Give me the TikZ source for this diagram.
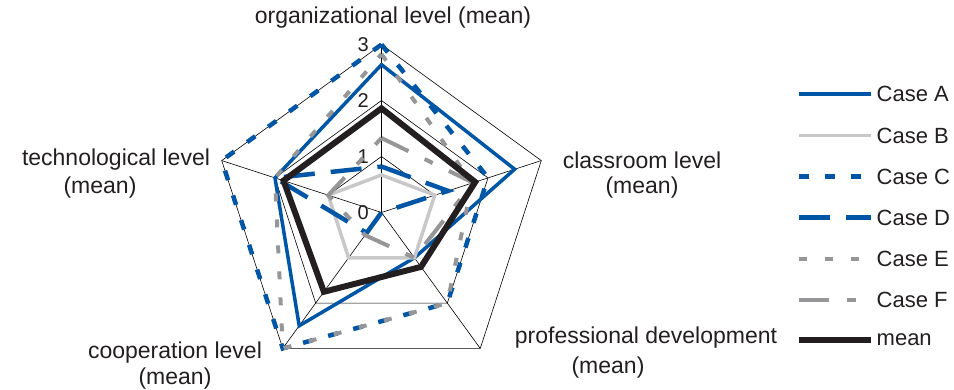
\documentclass[tikz,border=0pt]{standalone}
\usepackage{fontspec}
\setmainfont{Liberation Sans}
\definecolor{cblue}{RGB}{0,86,166}
\definecolor{cltgray}{RGB}{200,200,200}
\definecolor{cgray}{RGB}{150,150,152}
\definecolor{cblack}{RGB}{35,31,32}
\definecolor{ctext}{RGB}{35,31,32}
\tikzset{
 gridline/.style={line width=0.6pt, black},
 caseA/.style={cblue, line width=3.5pt},
 caseB/.style={cltgray, line width=3.5pt},
 caseC/.style={cblue, line width=4.5pt, dash pattern=on 10pt off 16pt},
 caseD/.style={cblue, line width=4.5pt, dash pattern=on 31pt off 16pt},
 caseE/.style={cgray, line width=4pt, dash pattern=on 8pt off 18pt},
 caseF/.style={cgray, line width=4pt, dash pattern=on 30pt off 18pt on 9pt off 18pt},
 meanline/.style={cblack, line width=6pt},
 lbl/.style={font=\fontsize{23}{27}\selectfont, text=ctext, inner sep=0pt, anchor=base},
 leg/.style={font=\fontsize{22}{26}\selectfont, text=ctext, inner sep=0pt, anchor=west},
 ticklbl/.style={font=\fontsize{20}{24}\selectfont, text=ctext, inner sep=0pt, anchor=east}
}
\newcommand\radarseries[6]{\draw[#1] (90:{#2*56}) -- (18:{#3*56}) -- (-54:{#4*56}) -- (-126:{#5*56}) -- (162:{#6*56}) -- cycle;}
\begin{document}
\begin{tikzpicture}[x=1pt,y=1pt]
\useasboundingbox (0,0) rectangle (954,389);
\coordinate (O) at (381.5,176.5);
\begin{scope}[shift={(O)}]
 \foreach \r in {1,2,3}
  \draw[gridline] (90:{\r*56}) -- (18:{\r*56}) -- (-54:{\r*56}) -- (-126:{\r*56}) -- (162:{\r*56}) -- cycle;
 \foreach \a in {90,18,-54,-126,162}
  \draw[gridline] (0,0) -- (\a:168);
 \node[ticklbl] (t0) at (-12.5,0) {0};
 \node[ticklbl] (t1) at (-12.5,56) {1};
 \node[ticklbl] (t2) at (-12.5,112) {2};
 \node[ticklbl] (t3) at (-12.5,168) {3};
 \radarseries{caseA}{2.64}{2.5}{1}{2.5}{2}
 \radarseries{caseB}{0.67}{1}{1}{1}{1}
 \radarseries{caseC}{3}{2}{2}{3}{3}
 \radarseries{caseD}{0.82}{1.25}{0}{0.45}{2}
 \radarseries{caseE}{2.83}{1.7}{2}{3}{2}
 \radarseries{caseF}{1.33}{1.72}{1}{0.5}{1}
 \radarseries{meanline}{1.86}{1.76}{1.2}{1.75}{1.84}
\end{scope}
% axis labels
\node[lbl] (org) at (393,365) {organizational level (mean)};
\node[lbl] (cls1) at (642,220.7) {classroom level};
\node[lbl] (cls2) at (642,195.5) {(mean)};
\node[lbl] (prof1) at (646,45.5) {professional development};
\node[lbl] (prof2) at (608,15.7) {(mean)};
\node[lbl] (coop1) at (175,31) {cooperation level};
\node[lbl] (coop2) at (175,5) {(mean)};
\node[lbl] (tech1) at (116,223) {technological level};
\node[lbl] (tech2) at (100,196) {(mean)};
% legend
\foreach \nm/\st/\yy/\txt in {la/caseA/295/Case A, lb/caseB/253.3/Case B, lc/caseC/212.3/Case C, ld/caseD/171.3/Case D, le/caseE/130/Case E, lf/caseF/89/Case F, lm/meanline/49/mean}{
 \coordinate (\nm s) at (799,\yy);
 \coordinate (\nm e) at (871,\yy);
 \draw[\st] (\nm s) -- (\nm e);
 \node[leg] (\nm t) at (876.5,\yy) {\txt};
}
\end{tikzpicture}
\end{document}
